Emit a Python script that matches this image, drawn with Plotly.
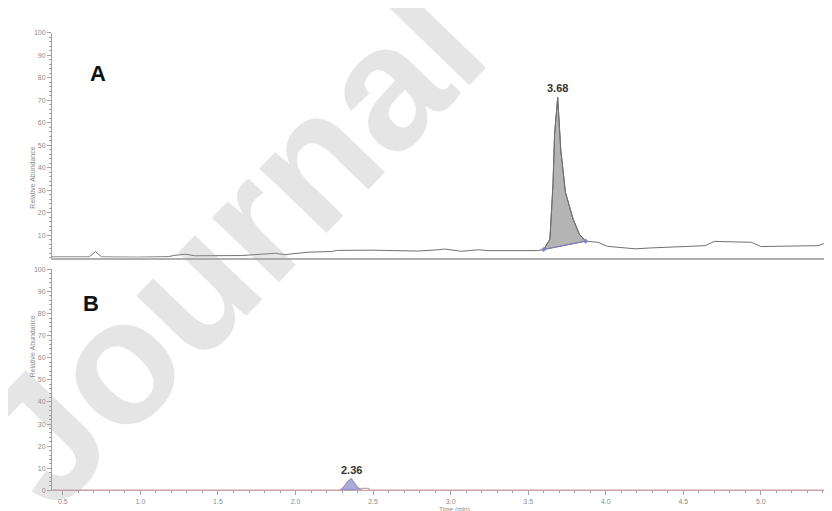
import plotly.graph_objects as go

W, H = 832, 511

# ---------------- data ----------------
# Panel A chromatogram (time in min, relative abundance %)
time_a = [0.43, 0.47, 0.60, 0.67, 0.71, 0.75, 0.98, 1.18, 1.22, 1.29, 1.35, 1.65, 1.80, 1.87,
          1.93, 2.08, 2.23, 2.27, 2.50, 2.79, 2.92, 2.96, 3.07, 3.18, 3.24, 3.56, 3.60,
          3.64, 3.66, 3.67, 3.69, 3.71, 3.74, 3.79, 3.83, 3.87, 3.95, 4.01, 4.19, 4.29,
          4.64, 4.70, 4.94, 5.00, 5.37, 5.45, 5.51]
abund_a = [0.3, 0.3, 0.3, 0.3, 2.7, 0.3, 0.2, 0.4, 1.0, 1.5, 0.8, 0.9, 1.6, 1.9,
           1.3, 2.4, 2.7, 3.2, 3.3, 2.9, 3.5, 3.8, 2.8, 3.5, 3.1, 3.1, 3.6,
           8.2, 33.0, 55.0, 71.2, 47.8, 29.0, 17.0, 10.4, 7.3, 6.8, 5.0, 3.9, 4.3,
           5.3, 7.2, 6.8, 4.9, 5.3, 7.4, 6.8]
peak_a_start, peak_a_end = 3.60, 3.87
peak_a_label = "3.68"

# Panel B chromatogram
time_b = [0.43, 2.28, 2.30, 2.32, 2.34, 2.36, 2.38, 2.40, 2.42, 2.43, 2.47, 2.48, 5.51]
abund_b = [0.0, 0.0, 0.6, 2.2, 4.2, 5.2, 3.4, 1.2, 0.5, 0.8, 0.8, 0.0, 0.0]
peak_b_start, peak_b_end = 2.29, 2.42
peak_b_label = "2.36"

x_ticks = [0.5, 1.0, 1.5, 2.0, 2.5, 3.0, 3.5, 4.0, 4.5, 5.0, 5.5]
x_tick_labels = ["0.5", "1.0", "1.5", "2.0", "2.5", "3.0", "3.5", "4.0", "4.5", "5.0", "5.5"]
y_ticks_a = [10, 20, 30, 40, 50, 60, 70, 80, 90, 100]
y_ticks_b = [0, 10, 20, 30, 40, 50, 60, 70, 80, 90, 100]

# ---------------- helpers ----------------
def interp(t, ts, vs):
    for i in range(len(ts) - 1):
        if ts[i] <= t <= ts[i + 1]:
            f = (t - ts[i]) / (ts[i + 1] - ts[i]) if ts[i + 1] != ts[i] else 0
            return vs[i] + f * (vs[i + 1] - vs[i])
    return vs[-1]

def peak_polygon(ts, vs, t0, t1):
    v0, v1 = interp(t0, ts, vs), interp(t1, ts, vs)
    px = [t0] + [t for t in ts if t0 < t < t1] + [t1]
    py = [v0] + [v for t, v in zip(ts, vs) if t0 < t < t1] + [v1]
    return px + [t0], py + [v0], (v0, v1)

FONT = "Liberation Sans, Arial, sans-serif"
fig = go.Figure()

# Panel A trace and peak fill
pax, pay, (a0, a1) = peak_polygon(time_a, abund_a, peak_a_start, peak_a_end)
fig.add_trace(go.Scatter(x=pax, y=pay, fill="toself", fillcolor="#b4b4b4",
                         line=dict(color="#666666", width=1), mode="lines",
                         xaxis="x", yaxis="y", hoverinfo="skip"))
fig.add_trace(go.Scatter(x=time_a, y=abund_a, mode="lines",
                         line=dict(color="#707070", width=1), xaxis="x", yaxis="y"))
fig.add_trace(go.Scatter(x=[peak_a_start, peak_a_end], y=[a0, a1], mode="lines+markers",
                         line=dict(color="#8080c8", width=1),
                         marker=dict(color="#8080c8", size=4, symbol="diamond"),
                         xaxis="x", yaxis="y"))

# Panel B trace and peak fill
pbx, pby, (b0, b1) = peak_polygon(time_b, abund_b, peak_b_start, peak_b_end)
fig.add_trace(go.Scatter(x=time_b, y=abund_b, mode="lines",
                         line=dict(color="#c9a3aa", width=1.5), xaxis="x2", yaxis="y2"))
fig.add_trace(go.Scatter(x=pbx, y=pby, fill="toself", fillcolor="#ababd8",
                         line=dict(color="#9090c8", width=1), mode="lines",
                         xaxis="x2", yaxis="y2", hoverinfo="skip"))

x0p = 44 / W
yA = [(H - 249) / H, (H - 21) / H]
yB = [(H - 485) / H, (H - 261) / H]
xr = [0.43, 5.51]

tickfont = dict(family=FONT, size=7, color="#8a8a8a")
common_y = dict(showgrid=False, zeroline=False, showline=True, linecolor="#a0a0a0",
                linewidth=1, ticks="outside", ticklen=4, tickcolor="#a0a0a0",
                tickfont=tickfont, range=[0, 100],
                minor=dict(dtick=2, ticks="outside", ticklen=2, tickcolor="#a0a0a0"))

fig.update_layout(
    width=W, height=H, margin=dict(l=0, r=0, t=0, b=0),
    paper_bgcolor="white", plot_bgcolor="white", showlegend=False,
    xaxis=dict(domain=[x0p, 1], range=xr, anchor="y", showgrid=False, zeroline=False,
               showline=True, linecolor="#b0b0b0", linewidth=1.5, showticklabels=False,
               ticks=""),
    yaxis=dict(domain=yA, anchor="x", tickvals=y_ticks_a, **common_y),
    xaxis2=dict(domain=[x0p, 1], range=xr, anchor="y2", showgrid=False, zeroline=False,
                showline=True, linecolor="#c9a3aa", linewidth=1, tickvals=x_ticks,
                ticktext=x_tick_labels, ticks="outside", ticklen=4, tickcolor="#a0a0a0",
                tickfont=tickfont,
                minor=dict(dtick=0.1, ticks="outside", ticklen=2, tickcolor="#a0a0a0")),
    yaxis2=dict(domain=yB, anchor="x2", tickvals=y_ticks_b, **common_y),
)

ann = []
# Panel letters
ann.append(dict(text="<b>A</b>", x=80 / W, y=1 - 48 / H, xref="paper", yref="paper",
                showarrow=False, font=dict(family=FONT, size=22, color="#111111")))
ann.append(dict(text="<b>B</b>", x=73 / W, y=1 - 296 / H, xref="paper", yref="paper",
                showarrow=False, font=dict(family=FONT, size=22, color="#111111")))
# Peak labels
ia = abund_a.index(max(abund_a))
ann.append(dict(text="<b>" + peak_a_label + "</b>", x=time_a[ia], y=abund_a[ia], xref="x", yref="y",
                yanchor="bottom", yshift=1, showarrow=False,
                font=dict(family=FONT, size=11, color="#333333")))
ib = abund_b.index(max(abund_b))
ann.append(dict(text="<b>" + peak_b_label + "</b>", x=time_b[ib], y=abund_b[ib], xref="x2", yref="y2",
                yanchor="bottom", yshift=1, showarrow=False,
                font=dict(family=FONT, size=11, color="#333333")))
# Axis titles
for yc in [(yA[0] + yA[1]) / 2, (yB[0] + yB[1]) / 2]:
    ann.append(dict(text="Relative Abundance", x=19 / W, y=yc, xref="paper", yref="paper",
                    textangle=-90, showarrow=False, font=dict(family=FONT, size=7, color="#8a8a8a")))
ann.append(dict(text="Time (min)", x=446 / W, y=0, xref="paper", yref="paper",
                showarrow=False, yanchor="bottom", borderpad=0, yshift=1,
                font=dict(family=FONT, size=6.5, color="#8a8a8a")))
# Watermark
ann.append(dict(text="<b>Journal</b>", x=222 / W, y=1 - 236 / H, xref="paper", yref="paper",
                textangle=-46, showarrow=False, xanchor="center", yanchor="middle",
                font=dict(family=FONT, size=176, color="rgba(160,160,160,0.28)")))
fig.update_layout(annotations=ann)

fig.write_html("out.html")
